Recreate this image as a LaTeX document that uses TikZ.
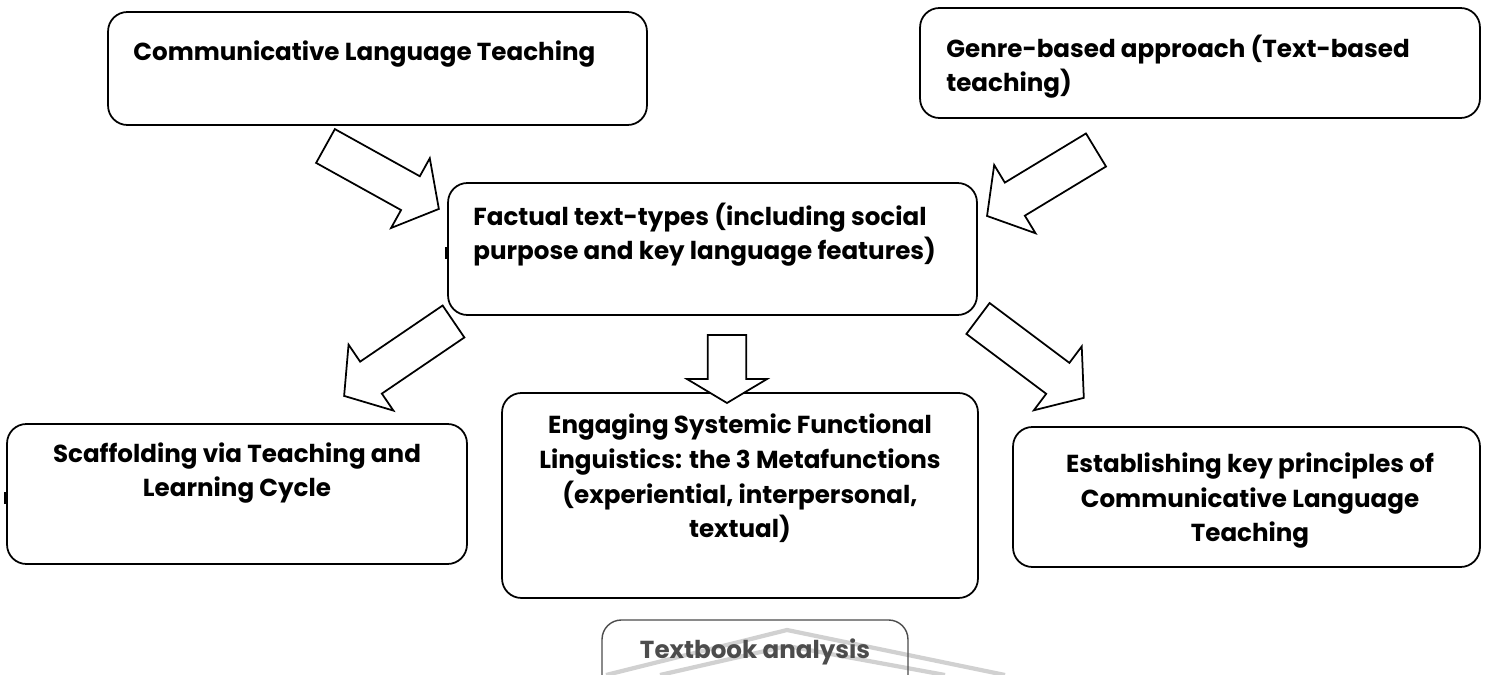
\documentclass[tikz,border=0pt]{standalone}
\usepackage{fontspec}
\setmainfont{Poppins}
\usetikzlibrary{calc}
\usetikzlibrary{positioning}
\tikzset{box/.style = {draw, line width=1pt, rounded corners=11pt, inner sep=0pt}}
\tikzset{boxtext/.style = {font=\fontsize{14}{19.9}\selectfont\bfseries, inner sep=0pt}}
\tikzset{fat/.style = {draw, fill=white, line width=1pt, line join=miter}}
\tikzset{tick/.style = {line width=2.5pt}}
\tikzset{mark line/.style = {draw=black!18, line width=2.4pt}}
% block arrow from a tail coordinate to a tip coordinate
\newcommand{\fatarrow}[3][18.5pt]{%
  \path let \p1 = (#2), \p2 = (#3) in
    \pgfextra{\pgfmathsetmacro\arrowtmp{atan2(\y2-\y1,\x2-\x1)}\xdef\arrowangle{\arrowtmp}%
              \pgfmathsetmacro\arrowtmp{veclen(\x2-\x1,\y2-\y1)}\xdef\arrowlength{\arrowtmp pt}};
  \draw [fat, shift={(#2)}, rotate=\arrowangle]
    (0pt, 11pt) -- ({\arrowlength-#1}, 11pt) -- ({\arrowlength-#1}, 22.7pt)
    -- (\arrowlength, 0pt) -- ({\arrowlength-#1}, -22.7pt) -- ({\arrowlength-#1}, -11pt)
    -- (0pt, -11pt) -- cycle;
}

\begin{document}
\begin{tikzpicture}[x=0.02cm, y=-0.02cm]
    \useasboundingbox (0, 0) rectangle (1489, 675);

    % faint mark behind the last box
    \draw [mark line] (606, 675) -- (787, 630) -- (1005, 675);
    \draw [mark line] (660, 675) -- (787, 646) -- (945, 675);

    % boxes
    \node [box, minimum width=10.78cm, minimum height=2.26cm] (clt) at (377.5, 68.5) {};
    \node [box, minimum width=11.2cm, minimum height=2.2cm] (genre) at (1200, 63) {};
    \node [box, minimum width=10.58cm, minimum height=2.64cm] (fact) at (712.5, 249) {};
    \node [box, minimum width=9.2cm, minimum height=2.8cm] (scaf) at (237, 494) {};
    \node [box, minimum width=9.52cm, minimum height=4.1cm] (sfl) at (740, 495.5) {};
    \node [box, minimum width=9.34cm, minimum height=2.8cm] (estab) at (1246.5, 497) {};
    \node [box, draw=black!70, line width=0.8pt, minimum width=6.12cm, minimum height=1.6cm] (book) at (755, 660) {};

    \draw [tick] ($(fact.west)+(0, -2)$) -- ($(fact.west)+(0, 10)$);
    \draw [tick] ($(scaf.west)+(0, -2)$) -- ($(scaf.west)+(0, 10)$);

    % texts (anchored at the baseline of their last line)
    \node [boxtext, anchor=base west] (clt-text) at (133, 61) {Communicative Language Teaching};
    \node [boxtext, anchor=base west, align=left] (genre-text) at (946, 92)
        {Genre-based approach (Text-based\\teaching)};
    \node [boxtext, anchor=base west, align=left] (fact-text) at (473, 260)
        {Factual text-types (including social\\purpose and key language features)};
    \node [boxtext, anchor=base, align=center] (scaf-text) at (237, 497)
        {Scaffolding via Teaching and\\Learning Cycle};
    \node [boxtext, anchor=base, align=center] (sfl-text) at (740, 538)
        {Engaging Systemic Functional\\Linguistics: the 3 Metafunctions\\(experiential, interpersonal,\\textual)};
    \node [boxtext, anchor=base, align=center] (estab-text) at (1250, 542)
        {Establishing key principles of\\Communicative Language\\Teaching};
    \node [boxtext, anchor=base, text=black!70] (book-text) at (755, 659) {Textbook analysis};

    % arrows
    \coordinate (tail1) at (325.5, 146);  \coordinate (tip1) at (439, 209);
    \coordinate (tail2) at (1096, 150);   \coordinate (tip2) at (987, 216);
    \coordinate (tail3) at (453.5, 321.5); \coordinate (tip3) at (344, 396);
    \coordinate (tail4) at (727, 335);    \coordinate (tip4) at (727, 403);
    \coordinate (tail5) at (978, 318.5);  \coordinate (tip5) at (1084, 398);
    \fatarrow{tail1}{tip1}
    \fatarrow{tail2}{tip2}
    \fatarrow{tail3}{tip3}
    \fatarrow[13.6pt]{tail4}{tip4}
    \fatarrow{tail5}{tip5}
  \end{tikzpicture}
\end{document}
